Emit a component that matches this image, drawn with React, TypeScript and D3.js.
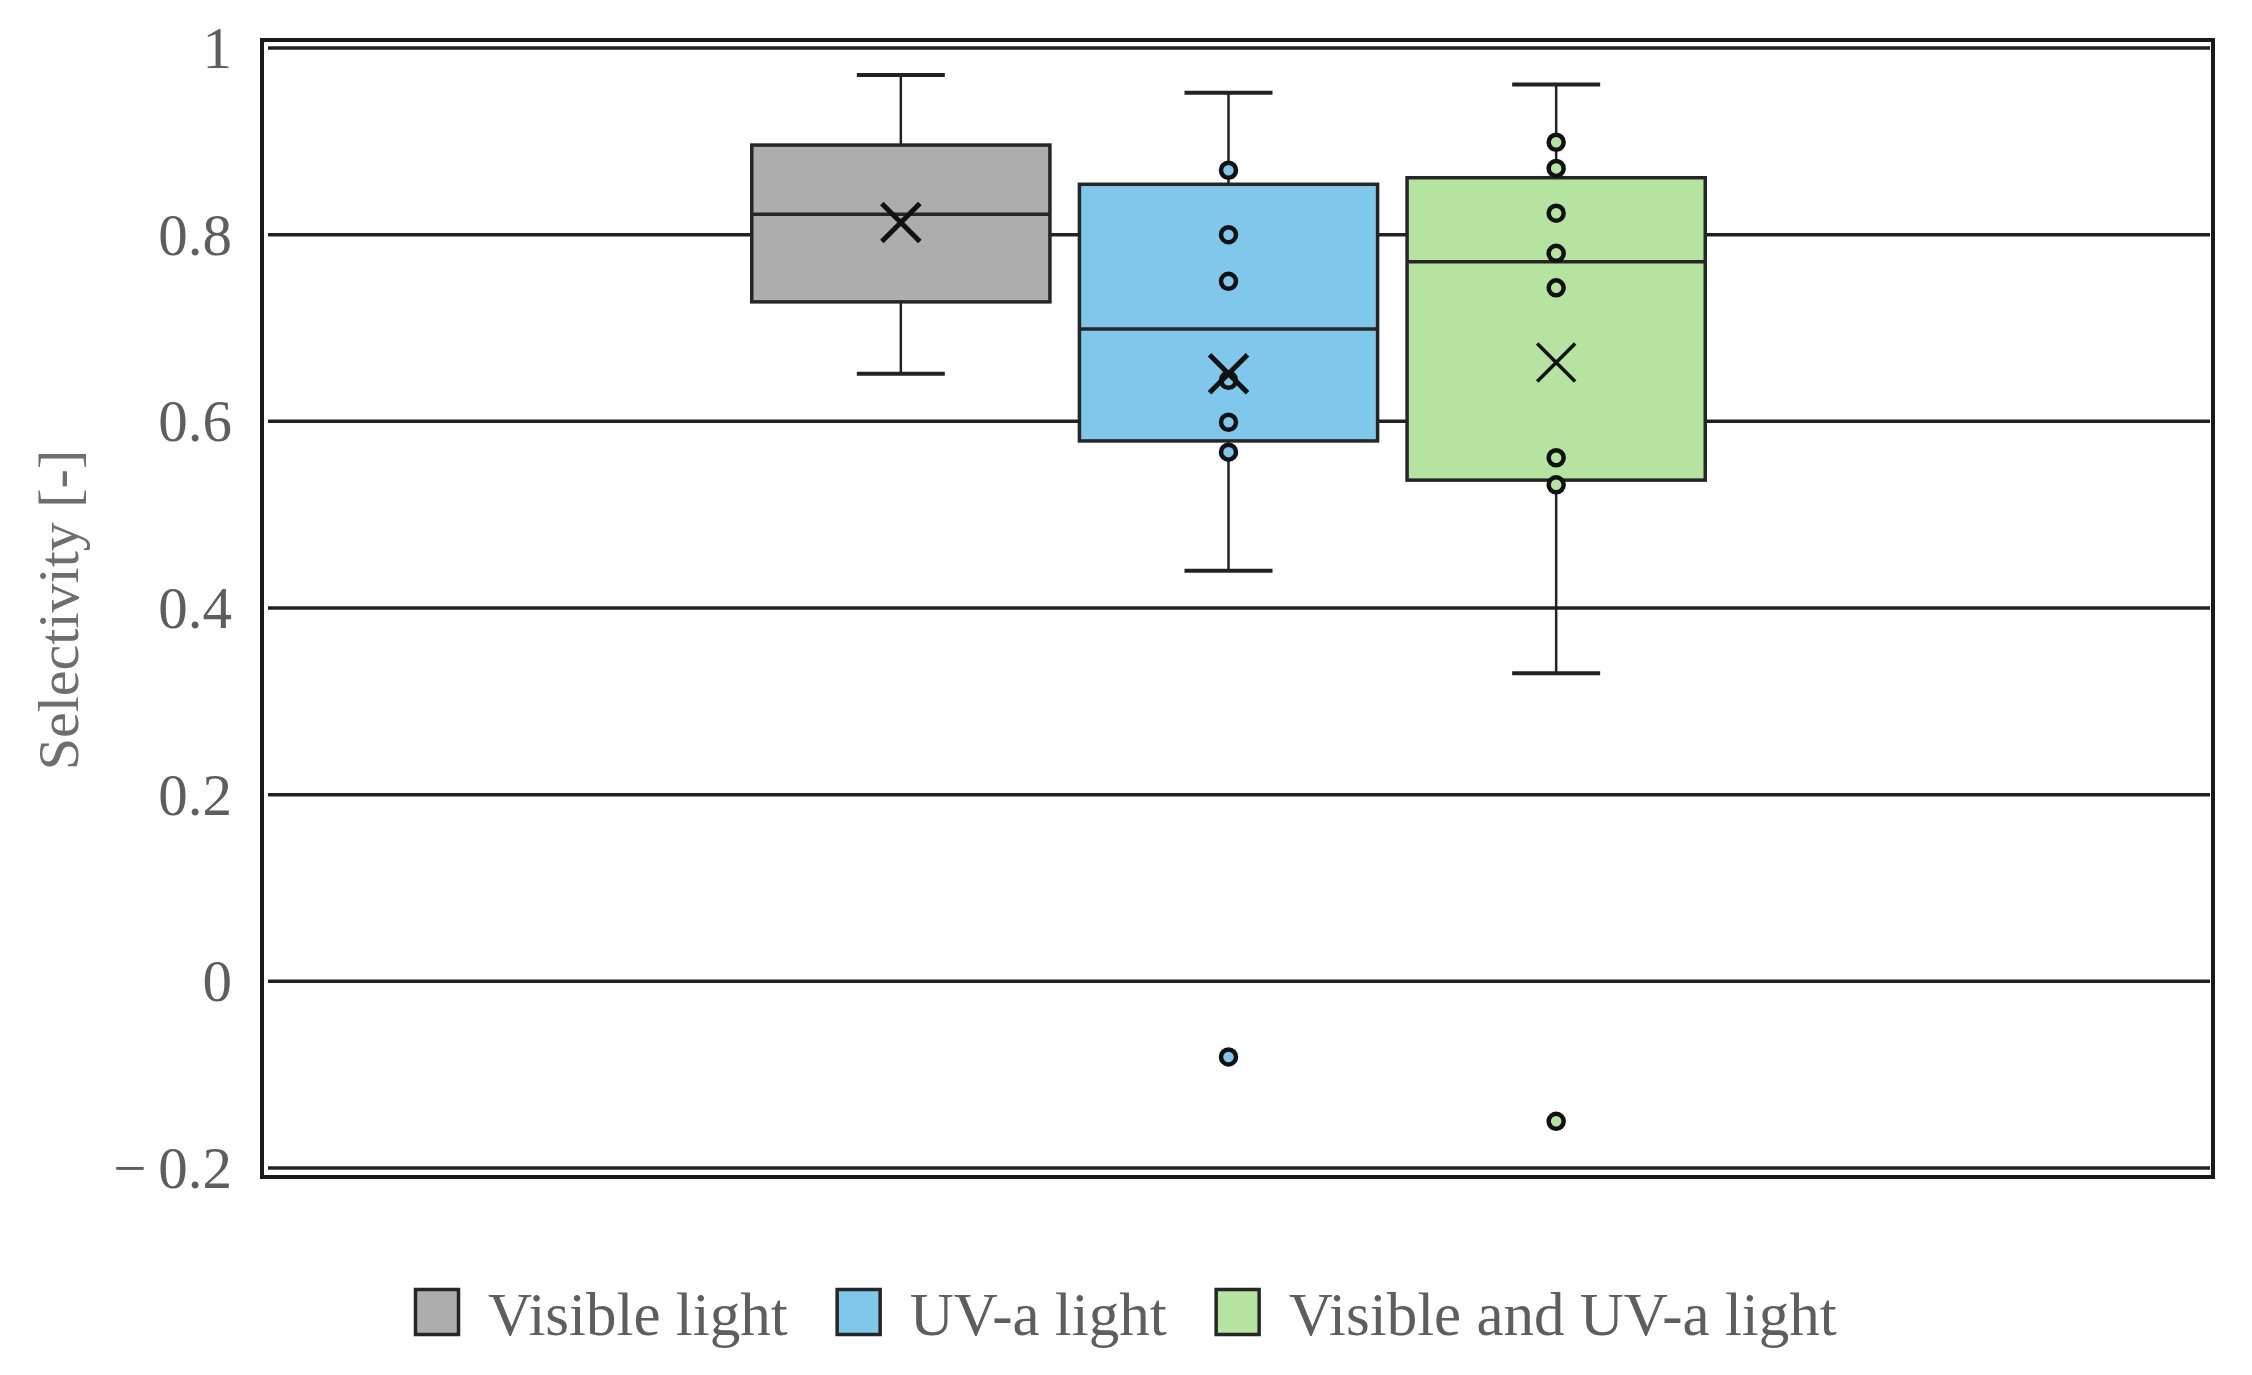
import { useEffect, useRef } from 'react'
import * as d3 from 'd3'

// one category, three series (Excel style box & whisker)
const SERIES = ['Visible light', 'UV-a light', 'Visible and UV-a light']
const COLORS = ['#adadad', '#80c8eb', '#b4e4a0']

const WHISKER_LOW = [0.651, 0.44, 0.33]
const Q1 = [0.728, 0.579, 0.537]
const MEDIAN = [0.822, 0.699, 0.771]
const Q3 = [0.896, 0.854, 0.861]
const WHISKER_HIGH = [0.971, 0.952, 0.961]
const MEAN = [0.813, 0.651, 0.663]

// inner points + outliers shown as circles
const POINTS: number[][] = [
  [],
  [0.869, 0.8, 0.75, 0.644, 0.599, 0.567, -0.081],
  [0.899, 0.871, 0.823, 0.78, 0.743, 0.561, 0.532, -0.15],
]

const Y_TICKS = [-0.2, 0, 0.2, 0.4, 0.6, 0.8, 1]
const Y_TICK_LABELS = ['\u2212\u20090.2', '0', '0.2', '0.4', '0.6', '0.8', '1']

const W = 2252
const H = 1375
const FONT = '"Liberation Serif", "Times New Roman", serif'

export default function App() {
  const svgRef = useRef<SVGSVGElement>(null)

  useEffect(() => {
    if (!svgRef.current) return
    const svg = d3.select(svgRef.current)
    svg.selectAll('*').remove()

    const frame = { left: 262, top: 40, right: 2213, bottom: 1177 }

    const y = d3.scaleLinear().domain([-0.2, 1]).range([1168, 48])
    const x = d3.scaleBand<string>()
      .domain(SERIES)
      .range([737, 1720])
      .paddingInner(0.09)
      .paddingOuter(0.045)

    // outer frame
    svg.append('rect')
      .attr('x', frame.left)
      .attr('y', frame.top)
      .attr('width', frame.right - frame.left)
      .attr('height', frame.bottom - frame.top)
      .attr('fill', 'none')
      .attr('stroke', '#1a1a1a')
      .attr('stroke-width', 4)

    // gridlines
    svg.append('g')
      .selectAll('line')
      .data(Y_TICKS)
      .join('line')
      .attr('x1', frame.left + 6)
      .attr('x2', frame.right - 3)
      .attr('y1', d => y(d))
      .attr('y2', d => y(d))
      .attr('stroke', '#222')
      .attr('stroke-width', 3.5)

    // tick labels
    svg.append('g')
      .selectAll('text')
      .data(Y_TICKS)
      .join('text')
      .attr('x', 232)
      .attr('y', d => y(d) + 20)
      .attr('text-anchor', 'end')
      .attr('font-family', FONT)
      .attr('font-size', 59)
      .attr('fill', '#5e5e5e')
      .text((_, i) => Y_TICK_LABELS[i])

    // axis title
    svg.append('text')
      .attr('transform', 'translate(78, 610) rotate(-90)')
      .attr('text-anchor', 'middle')
      .attr('font-family', FONT)
      .attr('font-size', 58)
      .attr('fill', '#6e6e6e')
      .text('Selectivity [-]')

    const bw = x.bandwidth()
    const capW = 88

    SERIES.forEach((s, i) => {
      const g = svg.append('g')
      const cx = (x(s) ?? 0) + bw / 2

      // whiskers
      g.append('line')
        .attr('x1', cx).attr('x2', cx)
        .attr('y1', y(WHISKER_HIGH[i])).attr('y2', y(Q3[i]))
        .attr('stroke', '#222').attr('stroke-width', 2.5)
      g.append('line')
        .attr('x1', cx).attr('x2', cx)
        .attr('y1', y(Q1[i])).attr('y2', y(WHISKER_LOW[i]))
        .attr('stroke', '#222').attr('stroke-width', 2.5)
      ;[WHISKER_HIGH[i], WHISKER_LOW[i]].forEach(v => {
        g.append('line')
          .attr('x1', cx - capW / 2).attr('x2', cx + capW / 2)
          .attr('y1', y(v)).attr('y2', y(v))
          .attr('stroke', '#222').attr('stroke-width', 4)
      })

      // box
      g.append('rect')
        .attr('x', x(s) ?? 0)
        .attr('y', y(Q3[i]))
        .attr('width', bw)
        .attr('height', y(Q1[i]) - y(Q3[i]))
        .attr('fill', COLORS[i])
        .attr('stroke', '#262626')
        .attr('stroke-width', 3.5)

      // median
      g.append('line')
        .attr('x1', x(s) ?? 0).attr('x2', (x(s) ?? 0) + bw)
        .attr('y1', y(MEDIAN[i])).attr('y2', y(MEDIAN[i]))
        .attr('stroke', '#262626').attr('stroke-width', 3.5)

      // points
      g.selectAll('circle')
        .data(POINTS[i])
        .join('circle')
        .attr('cx', cx)
        .attr('cy', d => y(d))
        .attr('r', 7.5)
        .attr('fill', COLORS[i])
        .attr('stroke', '#111')
        .attr('stroke-width', 4.5)

      // mean marker
      const m = y(MEAN[i])
      const r = 19
      g.append('path')
        .attr('d', `M${cx - r},${m - r}L${cx + r},${m + r}M${cx - r},${m + r}L${cx + r},${m - r}`)
        .attr('stroke', '#111')
        .attr('stroke-width', i === 2 ? 3.5 : 5)
        .attr('fill', 'none')
    })

    // legend
    const legend = svg.append('g').attr('transform', 'translate(414, 1288)')
    let lx = 0
    SERIES.forEach((s, i) => {
      legend.append('rect')
        .attr('x', lx + 1.5)
        .attr('y', 1.5)
        .attr('width', 43)
        .attr('height', 45)
        .attr('fill', COLORS[i])
        .attr('stroke', '#262626')
        .attr('stroke-width', 3.5)
      const t = legend.append('text')
        .attr('x', lx + 74)
        .attr('y', 47)
        .attr('font-family', FONT)
        .attr('font-size', 61)
        .attr('fill', '#5e5e5e')
        .text(s)
      const tw = (t.node() as SVGTextElement).getComputedTextLength()
      lx += 74 + tw + 48
    })
  }, [])

  return (
    <svg
      ref={svgRef}
      width={W}
      height={H}
      style={{ position: 'absolute', left: 0, top: 0, background: '#fff' }}
    />
  )
}
